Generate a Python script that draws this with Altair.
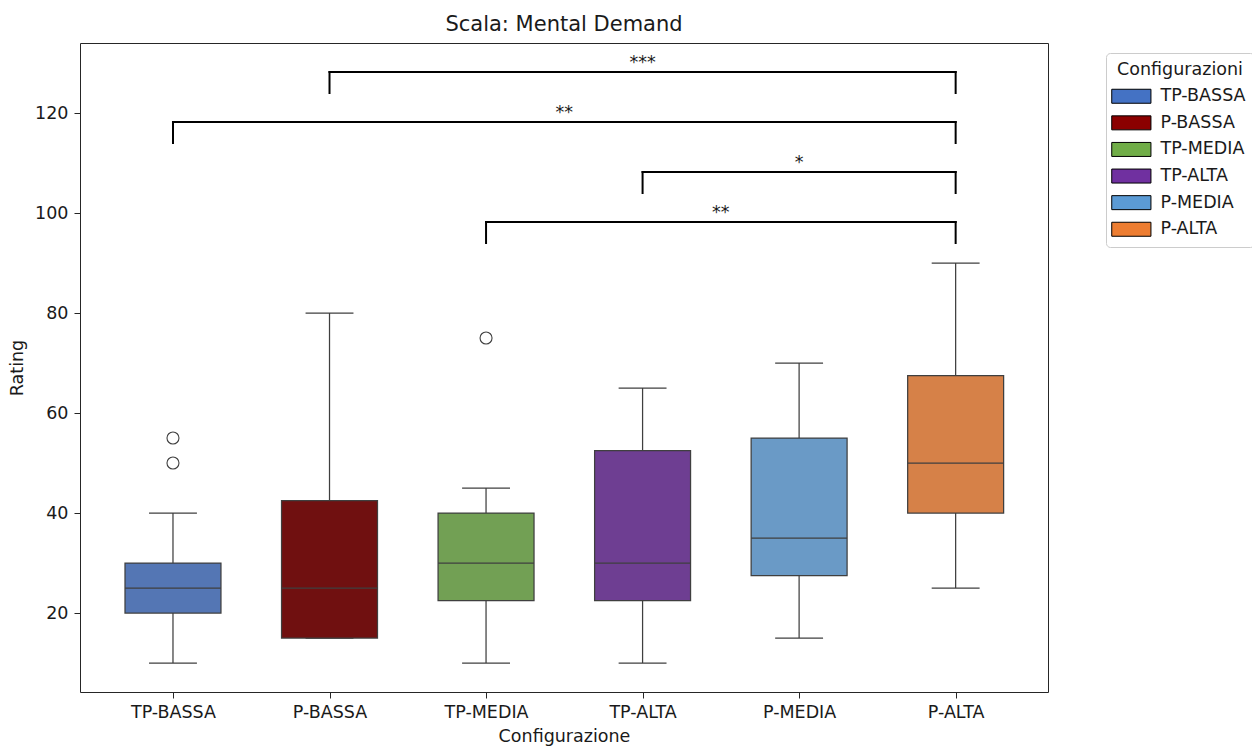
import json
import altair as alt
import pandas as pd

# ---------------- data ----------------
categories = ["TP-BASSA", "P-BASSA", "TP-MEDIA", "TP-ALTA", "P-MEDIA", "P-ALTA"]
whisker_low = [10, 15, 10, 10, 15, 25]
q1 = [20, 15, 22.5, 22.5, 27.5, 40]
median = [25, 25, 30, 30, 35, 50]
q3 = [30, 42.5, 40, 52.5, 55, 67.5]
whisker_high = [40, 80, 45, 65, 70, 90]

outlier_cat = ["TP-BASSA", "TP-BASSA", "TP-MEDIA"]
outlier_val = [50, 55, 75]

legend_colors = ["#4472C4", "#8B0000", "#70AD47", "#7030A0", "#5B9BD5", "#ED7D31"]
box_colors = ["#5476B4", "#701010", "#72A054", "#6E3E92", "#6A9AC6", "#D68148"]

bracket_from = ["P-BASSA", "TP-BASSA", "TP-ALTA", "TP-MEDIA"]
bracket_to = ["P-ALTA", "P-ALTA", "P-ALTA", "P-ALTA"]
bracket_y = [128.2, 118.2, 108.2, 98.2]
bracket_label = ["***", "**", "*", "**"]

# ---------------- styling constants ----------------
FONT = "DejaVu Sans"
FS = 17.5
EDGE = "#3f3f3f"
HALF_BOX = 0.3065
HALF_CAP = 0.153
TIP = 4.2

idx = {c: i for i, c in enumerate(categories)}

box_df = pd.DataFrame({
    "cat": categories,
    "i": list(range(len(categories))),
    "low": whisker_low, "q1": q1, "med": median, "q3": q3, "high": whisker_high,
})
box_df["x0"] = box_df["i"] - HALF_BOX
box_df["x1"] = box_df["i"] + HALF_BOX
box_df["c0"] = box_df["i"] - HALF_CAP
box_df["c1"] = box_df["i"] + HALF_CAP
box_df["Configurazioni"] = box_df["cat"]

out_df = pd.DataFrame({"i": [idx[c] for c in outlier_cat], "v": outlier_val})

seg_rows = []
for a, b, h in zip(bracket_from, bracket_to, bracket_y):
    xa, xb = idx[a], idx[b]
    seg_rows.append({"x": xa, "x2": xb, "y": h, "y2": h})
    seg_rows.append({"x": xa, "x2": xa, "y": h - TIP, "y2": h})
    seg_rows.append({"x": xb, "x2": xb, "y": h - TIP, "y2": h})
seg_df = pd.DataFrame(seg_rows)
lab_df = pd.DataFrame({
    "x": [(idx[a] + idx[b]) / 2 for a, b in zip(bracket_from, bracket_to)],
    "y": bracket_y,
    "t": bracket_label,
})

xscale = alt.Scale(domain=[-0.594, 5.59], nice=False, zero=False)
yscale = alt.Scale(domain=[4.2, 134], nice=False, zero=False)

label_expr = json.dumps(categories) + "[datum.value]"
xaxis = alt.Axis(values=list(range(len(categories))), labelExpr=label_expr, grid=False,
                 title="Configurazione", tickSize=6, labelPadding=5, titlePadding=7)
yaxis = alt.Axis(values=[20, 40, 60, 80, 100, 120], grid=False, title="Rating",
                 tickSize=6, labelPadding=6, titlePadding=8)

X = lambda f: alt.X(f, type="quantitative", scale=xscale, axis=xaxis)
Y = lambda f: alt.Y(f, type="quantitative", scale=yscale, axis=yaxis)

base = alt.Chart(box_df)

legend_layer = base.mark_point(filled=True, size=0, opacity=1, stroke="black", strokeWidth=1).encode(
    x=X("i"), y=Y("med"),
    fill=alt.Fill("Configurazioni:N",
                  scale=alt.Scale(domain=categories, range=legend_colors),
                  sort=categories,
                  legend=alt.Legend(
                      title="Configurazioni", orient="none", legendX=1026, legendY=10,
                      symbolType="M-2.8,-1L2.8,-1L2.8,1L-2.8,1Z", symbolSize=196,
                      symbolOffset=8.6, labelOffset=20.4, padding=8, rowPadding=7.6,
                      titlePadding=9, titleAnchor="middle", strokeColor="#cccccc",
                      cornerRadius=4, fillColor="white", labelFontSize=FS,
                      titleFontSize=FS, titleFontWeight="normal", labelFont=FONT,
                      titleFont=FONT, labelColor="#1a1a1a", titleColor="#1a1a1a",
                      symbolStrokeWidth=1)),
)

whisk = base.mark_rule(color=EDGE, strokeWidth=1.25).encode(x=X("i"), y=Y("low"), y2="high")
cap_lo = base.mark_rule(color=EDGE, strokeWidth=1.25).encode(x=X("c0"), x2="c1", y=Y("low"))
cap_hi = base.mark_rule(color=EDGE, strokeWidth=1.25).encode(x=X("c0"), x2="c1", y=Y("high"))
boxes = base.mark_rect(stroke=EDGE, strokeWidth=1.25).encode(
    x=X("x0"), x2="x1", y=Y("q1"), y2="q3",
    fill=alt.Fill("cat:N", scale=alt.Scale(domain=categories, range=box_colors), legend=None),
)
med = base.mark_rule(color=EDGE, strokeWidth=1.25).encode(x=X("x0"), x2="x1", y=Y("med"))

outl = alt.Chart(out_df).mark_point(shape="circle", filled=False, size=144, color=EDGE,
                                     strokeWidth=1.1, opacity=1).encode(x=X("i"), y=Y("v"))

brk = alt.Chart(seg_df).mark_rule(color="black", strokeWidth=2, strokeCap="square").encode(
    x=X("x"), x2="x2", y=Y("y"), y2="y2")
brk_txt = alt.Chart(lab_df).mark_text(font=FONT, fontSize=FS, color="#1a1a1a",
                                      baseline="alphabetic", dy=-4).encode(
    x=X("x"), y=Y("y"), text="t:N")

chart = alt.layer(legend_layer, whisk, cap_lo, cap_hi, boxes, med, outl, brk, brk_txt).resolve_scale(
    fill="independent"
).properties(
    width=968, height=649,
    title=alt.TitleParams("Scala: Mental Demand", fontSize=21, fontWeight="normal", font=FONT,
                          color="#1a1a1a", anchor="middle", offset=8),
    autosize=alt.AutoSizeParams(type="none"),
    padding={"left": 72, "top": 35, "right": 204, "bottom": 55},
).configure_view(
    stroke="#262626", strokeWidth=1
).configure_axis(
    domain=False, tickColor="#262626", tickWidth=1,
    labelFont=FONT, titleFont=FONT, labelFontSize=FS, titleFontSize=FS,
    titleFontWeight="normal", labelColor="#1a1a1a", titleColor="#1a1a1a",
)

chart.save("out.html", embed_options={"renderer": "svg", "actions": False})
